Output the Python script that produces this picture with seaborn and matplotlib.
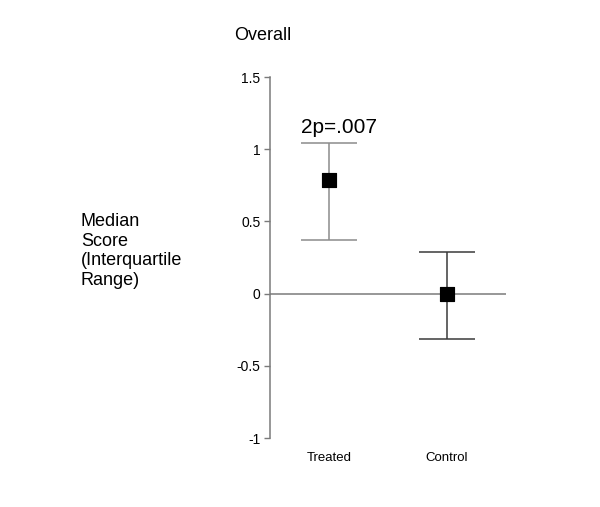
import numpy as np
import pandas as pd
import seaborn as sns
import matplotlib
matplotlib.use("Agg")
import matplotlib.pyplot as plt

groups = ["Treated", "Control"]
medians = [0.79, 0.0]
q_low = [0.37, -0.315]
q_high = [1.04, 0.29]
bar_colors = ["#8c8c8c", "#3a3a3a"]
y_ticks = [-1, -0.5, 0, 0.5, 1, 1.5]
y_tick_labels = ["-1", "-0.5", "0", "0.5", "1", "1.5"]

sns.set_style("white")
plt.rcParams["font.family"] = ["Liberation Sans", "DejaVu Sans"]
plt.rcParams["text.color"] = "black"
plt.rcParams["xtick.color"] = "black"
plt.rcParams["ytick.color"] = "black"

df = pd.DataFrame({"group": groups, "median": medians, "lo": q_low, "hi": q_high})
df["pos"] = np.arange(len(df))

fig = plt.figure(figsize=(6.0, 5.07), dpi=100)
ax = fig.add_axes([0.45, 0.136, 0.393, 0.712])

ax.axhline(0, color="#7a7a7a", lw=1.1, zorder=1)
for i, row in df.iterrows():
    ax.errorbar(row["pos"], row["median"],
                yerr=[[row["median"] - row["lo"]], [row["hi"] - row["median"]]],
                fmt="none", ecolor=bar_colors[i], elinewidth=1.1,
                capsize=20, capthick=1.1, zorder=2)
sns.scatterplot(data=df, x="pos", y="median", marker="s", s=110,
                color="black", edgecolor="black", ax=ax, zorder=3, legend=False)

ax.set_xlim(-0.5, 1.5)
ax.set_ylim(-1, 1.5)
ax.set_yticks(y_ticks)
ax.set_yticklabels(y_tick_labels, fontsize=10)
ax.set_xticks(df["pos"])
ax.set_xticklabels(groups, fontsize=9.5)
ax.tick_params(axis="x", length=0, pad=10)
ax.tick_params(axis="y", length=4, width=1, color="#7a7a7a", pad=3, direction="out", left=True)
ax.set_xlabel("")
ax.set_ylabel("")
for s in ["top", "right", "bottom"]:
    ax.spines[s].set_visible(False)
ax.spines["left"].set_color("#7a7a7a")
ax.spines["left"].set_linewidth(1.1)

ax.text(-0.24, 1.15, "2p=.007", fontsize=15, ha="left", va="center")
fig.text(0.39, 0.93, "Overall", fontsize=13, ha="left", va="center")
fig.text(0.135, 0.505, "Median\nScore\n(Interquartile\nRange)", fontsize=13,
         ha="left", va="center", linespacing=1.22)

fig.savefig("out.png", dpi=100)
